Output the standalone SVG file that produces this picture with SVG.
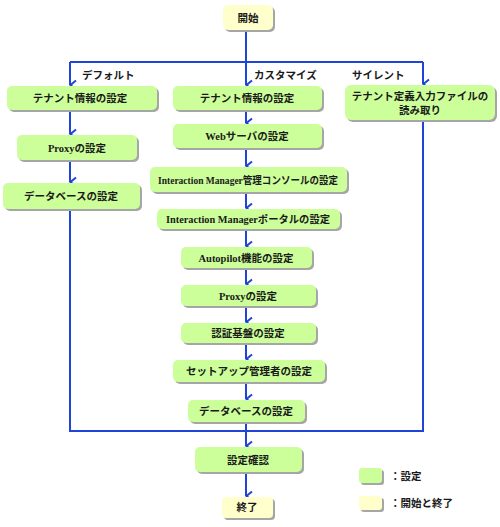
<svg xmlns="http://www.w3.org/2000/svg" width="500" height="527" viewBox="0 0 500 527">
<defs>
<style>
.g{fill:#ccff99}
.y{fill:#ffffcc}
.sh{fill:#a6a6a6}
.t{font-family:"Liberation Serif","Noto Sans CJK JP",serif;font-weight:bold;font-size:10.5px;fill:#1a1a1a;text-anchor:middle}
.lb{font-family:"Noto Sans CJK JP",sans-serif;font-weight:bold;font-size:10.5px;fill:#1a1a1a}
.c{fill:none;stroke:#1f44d8;stroke-width:2}
</style>
<marker id="ah" viewBox="-6 -8 12 10" refX="0" refY="0" markerWidth="12" markerHeight="10" markerUnits="userSpaceOnUse" orient="auto-start-reverse">
<path d="M-4.5,-6 L0,-0.5 L4.5,-6" fill="none" stroke="#1f44d8" stroke-width="2"/>
</marker>
</defs>
<g id="connectors">
<path class="c" d="M246,31 V62"/>
<path class="c" d="M70,62 H423"/>
<path class="c" d="M70,62 V85" marker-end="url(#ah)"/>
<path class="c" d="M246,62 V85" marker-end="url(#ah)"/>
<path class="c" d="M423,62 V84" marker-end="url(#ah)"/>
<path class="c" d="M70,111 V134" marker-end="url(#ah)"/>
<path class="c" d="M70,161 V182" marker-end="url(#ah)"/>
<path class="c" d="M70,210 V431 H423 V121"/>
<path class="c" d="M246,111 V123" marker-end="url(#ah)"/>
<path class="c" d="M246,149 V166" marker-end="url(#ah)"/>
<path class="c" d="M246,193 V208" marker-end="url(#ah)"/>
<path class="c" d="M246,230 V246" marker-end="url(#ah)"/>
<path class="c" d="M246,269 V284" marker-end="url(#ah)"/>
<path class="c" d="M246,307 V322" marker-end="url(#ah)"/>
<path class="c" d="M246,344 V359" marker-end="url(#ah)"/>
<path class="c" d="M246,383 V399" marker-end="url(#ah)"/>
<path class="c" d="M246,423 V446" marker-end="url(#ah)"/>
<path class="c" d="M246,473 V496" marker-end="url(#ah)"/>
</g>
<g id="labels">
<text class="lb" x="82" y="79">デフォルト</text>
<text class="lb" x="254" y="79">カスタマイズ</text>
<text class="lb" x="352" y="79">サイレント</text>
</g>
<g id="start"><rect class="sh" x="225" y="7" width="50" height="25" rx="5"/><rect class="y" x="223" y="5" width="50" height="25" rx="5"/><text class="t" x="248" y="21.5">開始</text></g>
<g id="l1"><rect class="sh" x="9" y="88" width="150" height="24" rx="5"/><rect class="g" x="7" y="86" width="150" height="24" rx="5"/><text class="t" x="80" y="102">テナント情報の設定</text></g>
<g id="l2"><rect class="sh" x="19" y="137" width="120" height="25" rx="5"/><rect class="g" x="17" y="135" width="120" height="25" rx="5"/><text class="t" x="77" y="151.5">Proxyの設定</text></g>
<g id="l3"><rect class="sh" x="5" y="185" width="137" height="26" rx="5"/><rect class="g" x="3" y="183" width="137" height="26" rx="5"/><text class="t" x="71" y="200">データベースの設定</text></g>
<g id="c1"><rect class="sh" x="175" y="88" width="149" height="24" rx="5"/><rect class="g" x="173" y="86" width="149" height="24" rx="5"/><text class="t" x="247" y="102">テナント情報の設定</text></g>
<g id="c2"><rect class="sh" x="175" y="126" width="149" height="24" rx="5"/><rect class="g" x="173" y="124" width="149" height="24" rx="5"/><text class="t" x="247" y="140">Webサーバの設定</text></g>
<g id="c3"><rect class="sh" x="152" y="169" width="197" height="25" rx="5"/><rect class="g" x="150" y="167" width="197" height="25" rx="5"/><text class="t" x="248" y="183.5" textLength="180" lengthAdjust="spacingAndGlyphs">Interaction Manager管理コンソールの設定</text></g>
<g id="c4"><rect class="sh" x="159" y="211" width="183" height="20" rx="5"/><rect class="g" x="157" y="209" width="183" height="20" rx="5"/><text class="t" x="248" y="223" textLength="164" lengthAdjust="spacingAndGlyphs">Interaction Managerポータルの設定</text></g>
<g id="c5"><rect class="sh" x="183" y="249" width="131" height="21" rx="5"/><rect class="g" x="181" y="247" width="131" height="21" rx="5"/><text class="t" x="246" y="261.5">Autopilot機能の設定</text></g>
<g id="c6"><rect class="sh" x="183" y="287" width="135" height="21" rx="5"/><rect class="g" x="181" y="285" width="135" height="21" rx="5"/><text class="t" x="248" y="299.5">Proxyの設定</text></g>
<g id="c7"><rect class="sh" x="183" y="325" width="135" height="20" rx="5"/><rect class="g" x="181" y="323" width="135" height="20" rx="5"/><text class="t" x="248" y="337">認証基盤の設定</text></g>
<g id="c8"><rect class="sh" x="175" y="362" width="152" height="22" rx="5"/><rect class="g" x="173" y="360" width="152" height="22" rx="5"/><text class="t" x="249" y="375">セットアップ管理者の設定</text></g>
<g id="c9"><rect class="sh" x="190" y="402" width="117" height="22" rx="5"/><rect class="g" x="188" y="400" width="117" height="22" rx="5"/><text class="t" x="246" y="415">データベースの設定</text></g>
<g id="s1"><rect class="sh" x="347" y="87" width="150" height="35" rx="6"/><rect class="g" x="345" y="85" width="150" height="35" rx="6"/><text class="t" x="420" y="100">テナント定義入力ファイルの</text><text class="t" x="420" y="114">読み取り</text></g>
<g id="confirm"><rect class="sh" x="197" y="449" width="107" height="25" rx="5"/><rect class="g" x="195" y="447" width="107" height="25" rx="5"/><text class="t" x="248" y="463.5">設定確認</text></g>
<g id="end"><rect class="sh" x="224" y="499" width="51" height="21" rx="4"/><rect class="y" x="222" y="497" width="51" height="21" rx="4"/><text class="t" x="247" y="511">終了</text></g>
<g id="legend">
<rect class="sh" x="361" y="470" width="23" height="15" rx="3"/><rect class="g" x="359" y="468" width="23" height="15" rx="3"/>
<text class="lb" x="390" y="480">：設定</text>
<rect class="sh" x="361" y="498" width="23" height="14" rx="3"/><rect class="y" x="359" y="496" width="23" height="14" rx="3"/>
<text class="lb" x="390" y="507">：開始と終了</text>
</g>
</svg>
